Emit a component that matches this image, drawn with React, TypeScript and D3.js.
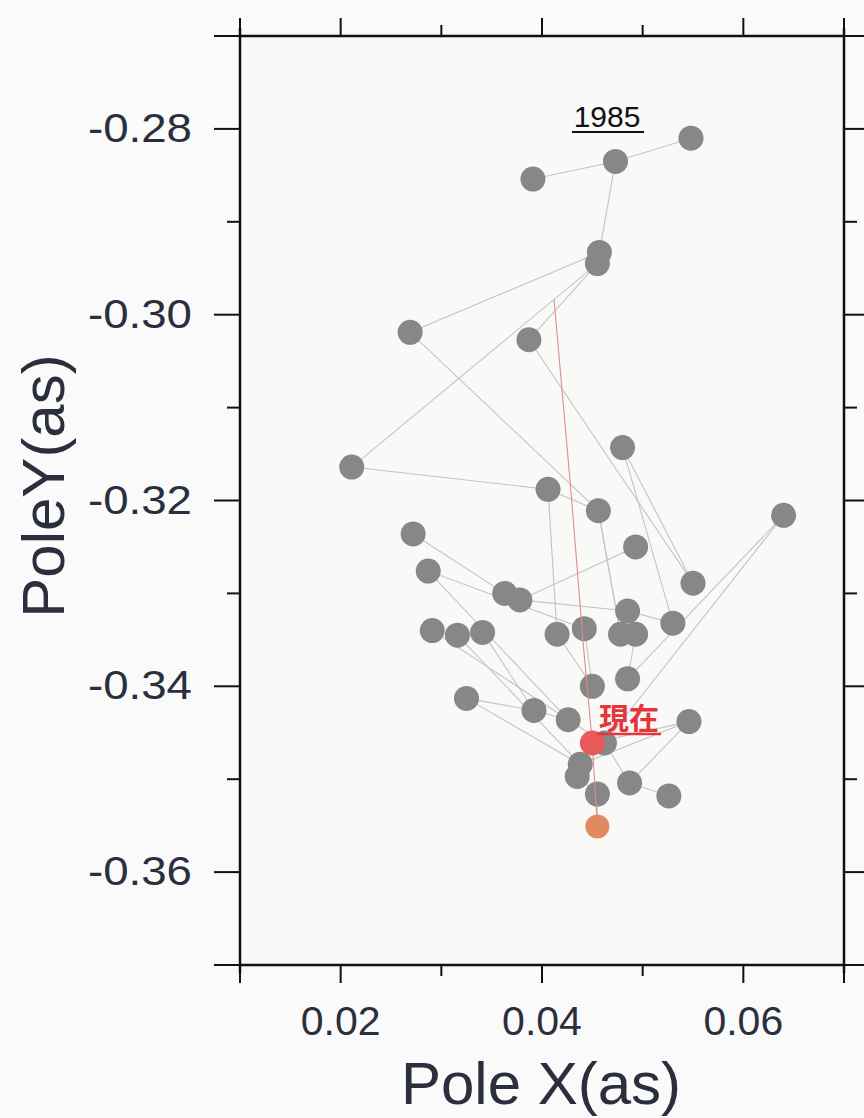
import React from "react";
import * as d3 from "d3";

// ---- data (arcseconds) ----
const poleX = [
  0.0548, 0.0473, 0.0391, 0.0457, 0.0455, 0.0269, 0.0387, 0.0480, 0.0211, 0.0406,
  0.0456, 0.0640, 0.0272, 0.0493, 0.0287, 0.0550, 0.0363, 0.0378, 0.0485, 0.0530,
  0.0291, 0.0316, 0.0341, 0.0415, 0.0442, 0.0478, 0.0493, 0.0485, 0.0450, 0.0325,
  0.0392, 0.0426, 0.0546, 0.0462, 0.0438, 0.0435, 0.0487, 0.0455, 0.0526,
];
const poleY = [
  -0.2810, -0.2835, -0.2854, -0.2933, -0.2945, -0.3019, -0.3027, -0.3143, -0.3164, -0.3188,
  -0.3211, -0.3216, -0.3236, -0.3250, -0.3276, -0.3289, -0.3300, -0.3307, -0.3319, -0.3332,
  -0.3340, -0.3345, -0.3342, -0.3344, -0.3338, -0.3344, -0.3344, -0.3392, -0.3400, -0.3413,
  -0.3426, -0.3436, -0.3438, -0.3461, -0.3484, -0.3497, -0.3504, -0.3516, -0.3518,
];
// connections between points (indices into poleX/poleY)
const linkFrom = [2, 1, 1, 3, 4, 4, 5, 8, 6, 7, 7, 9, 9, 10, 12, 13, 14, 14, 17, 18, 11, 11, 20, 21, 22, 10, 26, 29, 29, 30, 32, 32, 33, 36, 35, 24, 23, 31];
const linkTo = [1, 0, 3, 5, 8, 6, 10, 9, 15, 15, 19, 23, 10, 25, 16, 17, 24, 31, 18, 19, 27, 33, 31, 34, 30, 25, 27, 30, 34, 31, 34, 36, 36, 38, 37, 28, 28, 33];

// present position and forecast
const presentX = 0.0450;
const presentY = -0.3461;
const forecastX = 0.0455;
const forecastY = -0.3551;
const lastIndex = 37; // link from last gray point to forecast

// drift (red) line
const driftX = [0.0412, 0.0429, 0.0441, 0.0450, 0.0455];
const driftY = [-0.2984, -0.3193, -0.3355, -0.3461, -0.3551];

// axes
const xDomain = [0.01, 0.07];
const yDomain = [-0.37, -0.27];
const xTicks = [0.01, 0.02, 0.03, 0.04, 0.05, 0.06, 0.07];
const xTickLabels = ["", "0.02", "", "0.04", "", "0.06", ""];
const yTicks = [-0.27, -0.28, -0.29, -0.30, -0.31, -0.32, -0.33, -0.34, -0.35, -0.36, -0.37];
const yTickLabels = ["", "-0.28", "", "-0.30", "", "-0.32", "", "-0.34", "", "-0.36", ""];

const W = 864;
const H = 1118;
const M = { left: 240, right: 20, top: 36, bottom: 153 };

export default function App() {
  const x = d3.scaleLinear().domain(xDomain).range([M.left, W - M.right]);
  const y = d3.scaleLinear().domain(yDomain).range([H - M.bottom, M.top]);
  const x0 = M.left, x1 = W - M.right, y0 = M.top, y1 = H - M.bottom;
  const driftLine = d3
    .line<number>()
    .x((d, i) => x(driftX[i]))
    .y((d, i) => y(driftY[i]))
    .curve(d3.curveLinear);
  const labelFont = "'Liberation Sans', Arial, Helvetica, sans-serif";
  const textColor = "#2b2f3d";
  const isMajorX = (i: number) => xTickLabels[i] !== "";
  const isMajorY = (i: number) => yTickLabels[i] !== "";
  const isEnd = (i: number, n: number) => i === 0 || i === n - 1;

  return (
    <div style={{ position: "absolute", left: 0, top: 0 }}>
      <svg width={W} height={H} style={{ display: "block", background: "#fafafa" }}>
        <rect x={x0} y={y0} width={x1 - x0} height={y1 - y0} fill="#f9f9f8" />

        {/* connecting lines */}
        <g stroke="#c4c4c4" strokeWidth={1.1} fill="none">
          {linkFrom.map((a, i) => (
            <line
              key={i}
              x1={x(poleX[a])}
              y1={y(poleY[a])}
              x2={x(poleX[linkTo[i]])}
              y2={y(poleY[linkTo[i]])}
            />
          ))}
          <line x1={x(poleX[32])} y1={y(poleY[32])} x2={x(presentX)} y2={y(presentY)} />
          <line x1={x(poleX[lastIndex])} y1={y(poleY[lastIndex])} x2={x(forecastX)} y2={y(forecastY)} />
        </g>

        {/* gray points */}
        <g fill="#878787">
          {poleX.map((v, i) => (
            <circle key={i} cx={x(v)} cy={y(poleY[i])} r={12.5} />
          ))}
        </g>

        {/* drift line */}
        <path d={driftLine(driftX) || ""} stroke="#e58a8a" strokeWidth={1.1} fill="none" />

        {/* present & forecast */}
        <circle cx={x(presentX)} cy={y(presentY)} r={12.5} fill="#e85a5a" />
        <circle cx={x(forecastX)} cy={y(forecastY)} r={12} fill="#e08a62" />

        {/* annotations */}
        <text x={607} y={127} textAnchor="middle" fontFamily={labelFont} fontSize={30} fill="#111">
          1985
        </text>
        <line x1={572} x2={644} y1={132} y2={132} stroke="#111" strokeWidth={2} />
        <text
          x={629}
          y={729}
          textAnchor="middle"
          fontFamily="'Noto Sans CJK JP', 'Noto Sans CJK SC', sans-serif"
          fontWeight="bold"
          fontSize={30}
          fill="#e5343c"
        >
          現在
        </text>
        <line x1={597} x2={661} y1={734} y2={734} stroke="#e5343c" strokeWidth={2.5} />

        {/* frame */}
        <g stroke="#111" strokeWidth={2.5} fill="none">
          <line x1={x0} x2={x1} y1={y0} y2={y0} />
          <line x1={x0} x2={x1} y1={y1} y2={y1} />
          <line x1={x0} x2={x0} y1={y0 - 8} y2={y1 + 8} />
          <line x1={x1} x2={x1} y1={y0 - 8} y2={y1 + 8} />
        </g>

        {/* x ticks top & bottom */}
        <g stroke="#111" strokeWidth={2}>
          {xTicks.map((t, i) => {
            const len = isMajorX(i) || isEnd(i, xTicks.length) ? 18 : 11;
            return (
              <g key={i}>
                <line x1={x(t)} x2={x(t)} y1={y1} y2={y1 + len} />
                <line x1={x(t)} x2={x(t)} y1={y0} y2={y0 - len} />
              </g>
            );
          })}
        </g>
        {/* y ticks left & right */}
        <g stroke="#111" strokeWidth={2}>
          {yTicks.map((t, i) => {
            const len = isMajorY(i) || isEnd(i, yTicks.length) ? 26 : 13;
            return (
              <g key={i}>
                <line x1={x0} x2={x0 - len} y1={y(t)} y2={y(t)} />
                <line x1={x1} x2={x1 + len} y1={y(t)} y2={y(t)} />
              </g>
            );
          })}
        </g>

        {/* tick labels */}
        <g fontFamily={labelFont} fill={textColor}>
          {xTicks.map((t, i) =>
            xTickLabels[i] ? (
              <text key={i} x={x(t)} y={1035} textAnchor="middle" fontSize={41}>
                {xTickLabels[i]}
              </text>
            ) : null
          )}
          {yTicks.map((t, i) =>
            yTickLabels[i] ? (
              <text
                key={i}
                x={192}
                y={y(t) + 13}
                textAnchor="end"
                fontSize={40}
                textLength={104}
                lengthAdjust="spacingAndGlyphs"
              >
                {yTickLabels[i]}
              </text>
            ) : null
          )}
        </g>

        {/* axis titles */}
        <text
          x={541}
          y={1104}
          textAnchor="middle"
          fontFamily={labelFont}
          fontSize={60}
          fill={textColor}
        >
          Pole X(as)
        </text>
        <text
          transform={`translate(64, 486) rotate(-90)`}
          textAnchor="middle"
          fontFamily={labelFont}
          fontSize={60}
          fill={textColor}
        >
          PoleY(as)
        </text>
      </svg>
    </div>
  );
}
